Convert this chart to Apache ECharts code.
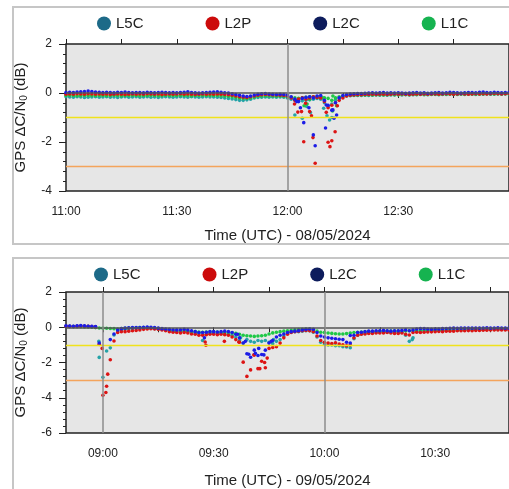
<!DOCTYPE html>
<html>
<head>
<meta charset="utf-8">
<script src="https://cdn.jsdelivr.net/npm/echarts@6/dist/echarts.min.js"></script>
<style>
  html, body { margin: 0; padding: 0; background: #fff; }
  #chart { width: 509px; height: 489px; }
</style>
</head>
<body>
<div id="chart"></div>
<script>
// signal names, legend order
const signals = ['L5C', 'L2P', 'L2C', 'L1C']

// panel 1: 08/05/2024, one value per minute from 11:00 (660 min)
const p1Start = 660
const p1L5C = [-0.15,-0.16,-0.17,-0.15,-0.16,-0.18,-0.17,-0.16,-0.15,-0.17,
  -0.16,-0.15,-0.17,-0.16,-0.18,-0.16,-0.15,-0.17,-0.16,-0.15,
  -0.17,-0.16,-0.15,-0.17,-0.16,-0.18,-0.16,-0.15,-0.16,-0.17,
  -0.16,-0.15,-0.16,-0.17,-0.15,-0.16,-0.17,-0.16,-0.15,-0.16,
  -0.16,-0.17,-0.18,-0.2,-0.22,-0.24,-0.27,-0.3,-0.3,-0.28,
  -0.25,-0.2,-0.18,-0.17,-0.16,-0.17,-0.16,-0.17,-0.16,-0.17,
  -0.2,-0.25,-0.3,-0.28,-0.32,-0.3,-0.28,-0.25,-0.22,-0.25,
  -0.4,-0.55,-0.45,-0.3,-0.2,-0.15,-0.12,-0.11,-0.1,-0.1,
  -0.1,-0.09,-0.1,-0.09,-0.08,-0.09,-0.08,-0.09,-0.08,-0.08,
  -0.07,-0.08,-0.07,-0.08,-0.07,-0.07,-0.06,-0.07,-0.07,-0.06,
  -0.06,-0.07,-0.06,-0.06,-0.05,-0.06,-0.06,-0.05,-0.06,-0.05,
  -0.05,-0.06,-0.05,-0.05,-0.04,-0.05,-0.05,-0.04,-0.05,-0.04,-0.04]
const p1L2P = [-0.05,-0.04,-0.05,-0.03,-0.04,-0.05,-0.03,-0.04,-0.05,-0.04,
  -0.05,-0.04,-0.06,-0.05,-0.04,-0.05,-0.06,-0.05,-0.04,-0.05,
  -0.04,-0.05,-0.03,-0.04,-0.05,-0.04,-0.06,-0.05,-0.04,-0.05,
  -0.04,-0.03,-0.05,-0.04,-0.05,-0.06,-0.05,-0.04,-0.05,-0.04,
  -0.05,-0.04,-0.05,-0.06,-0.07,-0.09,-0.12,-0.15,-0.17,-0.18,
  -0.15,-0.12,-0.09,-0.07,-0.06,-0.07,-0.08,-0.08,-0.09,-0.1,
  -0.12,-0.2,-0.3,-0.25,-0.2,-0.25,-0.2,-0.15,-0.18,-0.2,
  -0.35,-0.6,-0.5,-0.4,-0.3,-0.2,-0.12,-0.09,-0.08,-0.07,
  -0.07,-0.06,-0.06,-0.05,-0.06,-0.05,-0.05,-0.06,-0.05,-0.04,
  -0.05,-0.04,-0.05,-0.06,-0.05,-0.04,-0.05,-0.04,-0.05,-0.04,
  -0.04,-0.05,-0.04,-0.03,-0.04,-0.05,-0.04,-0.03,-0.04,-0.05,
  -0.04,-0.03,-0.04,-0.03,-0.04,-0.03,-0.02,-0.03,-0.04,-0.03,-0.02]
const p1L2C = [0.02,0.03,0.02,0.04,0.05,0.06,0.08,0.06,0.04,0.03,
  0.02,0.03,0.02,0.01,0.03,0.02,0.04,0.02,0.01,0.02,
  0.02,0.01,0.03,0.02,0.01,0.02,0.03,0.02,0.01,0.02,
  0.01,0.02,0.03,0.05,0.02,0.01,0.00,0.01,0.02,0.03,
  0.04,0.05,0.03,0.01,0.00,-0.03,-0.06,-0.09,-0.12,-0.14,
  -0.12,-0.08,-0.05,-0.03,-0.02,-0.04,-0.05,-0.06,-0.05,-0.06,
  -0.08,-0.15,-0.25,-0.35,-0.22,-0.18,-0.15,-0.2,-0.12,-0.1,
  -0.3,-0.5,-0.7,-0.4,-0.2,-0.1,-0.06,-0.04,-0.03,-0.02,
  -0.02,-0.01,0.0,0.01,0.0,0.01,0.02,0.0,0.01,0.0,
  0.01,0.0,-0.01,0.0,0.01,0.02,0.0,0.01,-0.01,0.0,
  0.01,0.02,0.0,0.01,0.03,0.02,0.01,0.0,0.01,0.02,
  0.02,0.01,0.03,0.04,0.02,0.01,0.03,0.02,0.01,0.02,0.02]
const p1L1C = [-0.1,-0.09,-0.1,-0.11,-0.1,-0.09,-0.1,-0.1,-0.11,-0.1,
  -0.1,-0.11,-0.1,-0.09,-0.1,-0.11,-0.1,-0.1,-0.09,-0.1,
  -0.11,-0.1,-0.1,-0.09,-0.1,-0.11,-0.1,-0.09,-0.1,-0.1,
  -0.1,-0.09,-0.1,-0.1,-0.11,-0.1,-0.1,-0.09,-0.1,-0.1,
  -0.1,-0.1,-0.11,-0.12,-0.13,-0.15,-0.18,-0.2,-0.22,-0.22,
  -0.2,-0.16,-0.13,-0.12,-0.11,-0.12,-0.12,-0.13,-0.12,-0.13,
  -0.15,-0.18,-0.2,-0.22,-0.2,-0.18,-0.16,-0.15,-0.17,-0.18,
  -0.2,-0.22,-0.3,-0.2,-0.15,-0.12,-0.1,-0.09,-0.09,-0.08,
  -0.08,-0.08,-0.07,-0.08,-0.07,-0.07,-0.08,-0.07,-0.06,-0.07,
  -0.07,-0.06,-0.06,-0.07,-0.06,-0.06,-0.05,-0.06,-0.06,-0.05,
  -0.05,-0.06,-0.05,-0.05,-0.04,-0.05,-0.05,-0.04,-0.05,-0.04,
  -0.04,-0.05,-0.04,-0.04,-0.03,-0.04,-0.04,-0.03,-0.04,-0.03,-0.03]
// extra scattered points in the dips: [minute, dB]
const p1L5CDip = [[722,-0.9],[722.8,-0.3],[724,-1.03],[725.2,-0.55],[726.2,-0.8],[729.8,-0.62],[730.7,-0.93],[731.4,-1.1],[732,-1.0]]
const p1L2PDip = [[721.9,-0.45],[722.8,-0.78],[723.8,-0.76],[724.4,-1.99],[724.9,-0.42],[726,-0.76],[726.5,-0.93],[726.9,-1.82],[727.5,-2.87],
  [730.5,-0.79],[731,-2.01],[731.5,-2.19],[732,-1.95],[732.9,-1.58],[733.5,-0.52]]
const p1L2CDip = [[722.5,-0.35],[723.5,-0.6],[724.4,-1.21],[725.8,-0.6],[727,-1.71],[727.5,-2.15],[730.3,-1.43],[730.5,-0.49],[732.3,-0.69],[732.6,-1.03],[733.3,-0.9]]
const p1L1CDip = [[724.5,-0.52],[725.3,-0.45],[726,-0.25],[728.2,-0.15],[729.5,-0.2],[732.2,-0.73],[732.3,-0.12],[733.3,-0.52]]

// panel 2: 09/05/2024, one value per minute from 08:50 (530 min), null = no point
const p2Start = 530
const p2L5C = [0.06,0.05,0.05,0.06,0.07,0.06,0.05,0.03,0.02,-1.71,
  -2.84,-1.35,-1.17,-0.44,-0.2,-0.15,-0.12,-0.1,-0.08,-0.06,
  -0.05,-0.04,-0.05,-0.06,-0.08,-0.1,-0.12,-0.16,-0.2,-0.22,
  -0.25,-0.24,-0.22,-0.25,-0.3,-0.33,-0.36,-0.75,-0.4,-0.35,
  -0.35,-0.36,-0.35,-0.38,-0.4,-0.45,-0.56,-0.75,-0.9,-0.7,
  -0.8,-0.85,-0.75,-0.8,-0.75,-0.85,-0.93,-0.8,-0.7,-0.5,
  -0.35,-0.28,-0.25,-0.25,-0.22,-0.2,-0.2,-0.28,-0.55,-0.85,
  -0.95,-1.0,-1.0,-1.05,-1.05,-1.1,-1.12,-1.16,-0.65,-0.45,
  -0.38,-0.35,-0.32,-0.3,-0.3,-0.28,-0.27,-0.28,-0.3,-0.3,
  -0.3,-0.3,-0.45,-0.8,-0.6,-0.25,-0.22,-0.2,-0.2,-0.19,
  -0.18,-0.18,-0.17,-0.16,-0.15,-0.15,-0.14,-0.14,-0.13,-0.12,
  -0.12,-0.12,-0.11,-0.11,-0.1,-0.1,-0.1,-0.1,-0.1,-0.09,-0.09]
const p2L2P = [0.05,0.05,0.04,0.06,0.07,0.06,0.05,0.04,0.02,-0.97,
  -3.86,-3.35,-1.84,-0.78,-0.3,-0.25,-0.25,-0.22,-0.2,-0.18,
  -0.15,-0.12,-0.1,-0.08,-0.1,-0.12,-0.15,-0.2,-0.25,-0.28,
  -0.3,-0.32,-0.3,-0.32,-0.38,-0.4,-0.45,-0.45,-0.42,-0.4,
  -0.4,-0.42,-0.4,-0.42,-0.45,-0.55,-0.7,-0.85,-1.98,-2.79,
  -2.42,-1.57,-2.35,-1.93,-2.3,-1.2,-1.15,-1.1,-0.9,-0.6,
  -0.4,-0.3,-0.25,-0.22,-0.2,-0.18,-0.2,-0.25,-0.5,-0.75,
  -0.85,-0.9,-0.92,-0.88,-0.95,-1.0,-1.05,-1.0,-0.6,-0.45,
  -0.4,-0.38,-0.35,-0.35,-0.33,-0.33,-0.32,-0.3,-0.33,-0.35,
  -0.35,-0.33,-0.4,-0.44,-0.3,-0.28,-0.3,-0.28,-0.27,-0.26,
  -0.25,-0.24,-0.25,-0.23,-0.22,-0.22,-0.2,-0.2,-0.2,-0.19,
  -0.2,-0.18,-0.18,-0.17,-0.17,-0.16,-0.16,-0.15,-0.15,-0.15,-0.15]
const p2L2C = [0.08,0.07,0.06,0.08,0.1,0.08,0.06,0.05,0.04,-0.9,
  null,null,-0.7,-0.38,-0.15,-0.08,-0.05,-0.03,-0.02,-0.02,
  -0.02,0.0,0.01,0.0,-0.02,-0.05,-0.08,-0.1,-0.12,-0.14,
  -0.15,-0.14,-0.12,-0.15,-0.2,-0.25,-0.3,-0.3,-0.28,-0.25,
  -0.25,-0.27,-0.25,-0.22,-0.25,-0.3,-0.4,-0.6,-0.9,-1.5,
  -1.7,-1.3,-1.6,-1.55,-1.3,-0.9,-0.75,-0.55,-0.45,-0.38,
  -0.3,-0.25,-0.22,-0.2,-0.15,-0.12,-0.1,-0.12,-0.3,-0.5,
  -0.55,-0.6,-0.62,-0.65,-0.68,-0.7,-0.85,-0.9,-0.45,-0.3,
  -0.28,-0.25,-0.22,-0.22,-0.2,-0.2,-0.18,-0.2,-0.22,-0.2,
  -0.2,-0.18,-0.15,-0.2,-0.15,-0.1,-0.08,-0.08,-0.1,-0.12,
  -0.1,-0.1,-0.08,-0.07,-0.06,-0.05,-0.06,-0.05,-0.05,-0.04,
  -0.05,-0.04,-0.05,-0.04,-0.03,-0.05,-0.04,-0.03,-0.04,-0.05,-0.05]
const p2L1C = [0.04,0.04,0.03,0.03,0.03,0.02,0.02,0.0,-0.02,-0.04,
  -0.05,-0.06,-0.07,-0.08,-0.1,-0.08,-0.06,-0.05,-0.04,-0.03,
  -0.02,-0.02,-0.02,-0.03,-0.05,-0.08,-0.1,-0.14,-0.17,-0.2,
  -0.2,-0.2,-0.2,-0.22,-0.24,-0.25,-0.27,-0.28,-0.27,-0.26,
  -0.26,-0.27,-0.28,-0.3,-0.3,-0.32,-0.35,-0.4,-0.45,-0.48,
  -0.5,-0.52,-0.5,-0.48,-0.45,-0.38,-0.32,-0.28,-0.25,-0.22,
  -0.2,-0.18,-0.15,-0.13,-0.12,-0.1,-0.1,-0.15,-0.22,-0.28,
  -0.3,-0.33,-0.35,-0.37,-0.38,-0.38,-0.36,-0.33,-0.3,-0.28,
  -0.27,-0.26,-0.25,-0.24,-0.24,-0.23,-0.23,-0.22,-0.22,-0.22,
  -0.22,-0.21,-0.21,-0.2,-0.2,-0.2,-0.19,-0.19,-0.18,-0.18,
  -0.18,-0.17,-0.17,-0.16,-0.16,-0.15,-0.15,-0.15,-0.14,-0.14,
  -0.14,-0.13,-0.13,-0.13,-0.12,-0.12,-0.12,-0.12,-0.11,-0.11,-0.1]
const p2L5CDip = [[538.9,-0.8],[577.3,-0.6],[586.2,-0.7],[623.8,-0.7]]
const p2L2PDip = [[539.8,-1.2],[540.8,-3.7],[541.3,-2.66],[567.7,-0.84],[567.9,-1.02],[572.9,-0.8],[576.8,-0.84],
  [580.9,-1.57],[582.5,-2.35],[583.8,-2.0],[584.5,-1.75]]
const p2L2CDip = [[567.5,-0.6],[576.5,-0.4],[578.6,-0.8],[579.5,-1.53],[581.3,-1.48],[582.2,-1.2],[583.6,-1.57],[585.6,-0.8],[607,-0.47]]
const p2L1CDip = []

// tick positions (minutes of day)
const p2Ticks = [540, 555, 570, 585, 600, 615, 630, 645]
const p2Labels = [540, 570, 600, 630]

const dotColor = { L5C: '#25a3a8', L2P: '#dc1414', L2C: '#1c1ce6', L1C: '#1ec846' }
const keyColor = { L5C: '#1d6a88', L2P: '#cc0b0b', L2C: '#0d1c5c', L1C: '#16b350' }

const font = 'Liberation Sans, Arial, sans-serif'

function hhmm(m) {
  let h = Math.floor(m / 60), mm = Math.round(m % 60)
  return (h < 10 ? '0' : '') + h + ':' + (mm < 10 ? '0' : '') + mm
}

function pts(start, vals, extra) {
  return vals.map((v, i) => v === null ? null : [start + i, v])
    .filter(p => p !== null)
    .concat(extra)
}

function refLines(vx) {
  let data = [
    { yAxis: 0, lineStyle: { color: '#555', width: 1.5 } },
    { yAxis: -1, lineStyle: { color: '#f0e21c', width: 1.4 } },
    { yAxis: -3, lineStyle: { color: '#f4a45c', width: 1.3 } }
  ]
  vx.forEach(x => data.push({ xAxis: x, lineStyle: { color: '#8c8c8c', width: 1.5 } }))
  return {
    silent: true,
    symbol: 'none',
    label: { show: false },
    lineStyle: { type: 'solid' },
    data: data
  }
}

const panel1 = { L5C: pts(p1Start, p1L5C, p1L5CDip), L2P: pts(p1Start, p1L2P, p1L2PDip),
  L2C: pts(p1Start, p1L2C, p1L2CDip), L1C: pts(p1Start, p1L1C, p1L1CDip) }
const panel2 = { L5C: pts(p2Start, p2L5C, p2L5CDip), L2P: pts(p2Start, p2L2P, p2L2PDip),
  L2C: pts(p2Start, p2L2C, p2L2CDip), L1C: pts(p2Start, p2L1C, p2L1CDip) }

// drawing order: blue on top
const drawOrder = ['L5C', 'L1C', 'L2P', 'L2C']
let series = []
drawOrder.forEach((name, k) => {
  series.push({
    name: name, type: 'scatter', xAxisIndex: 0, yAxisIndex: 0,
    symbolSize: 3.6, itemStyle: { color: dotColor[name], opacity: 1 },
    data: panel1[name], markLine: k === 0 ? refLines([720]) : undefined
  })
})
drawOrder.forEach((name, k) => {
  series.push({
    name: name, type: 'scatter', xAxisIndex: 2, yAxisIndex: 1,
    symbolSize: 3.6, itemStyle: { color: dotColor[name], opacity: 1 },
    data: panel2[name], markLine: k === 0 ? refLines([540, 600]) : undefined
  })
})

const legendItems = signals.map(s => ({ name: s, itemStyle: { color: keyColor[s] } }))
function legend(top, left) {
  return {
    top: top, left: left, icon: 'circle', itemWidth: 14, itemHeight: 14, itemGap: 62,
    selectedMode: false,
    textStyle: { fontSize: 15, color: '#222', fontFamily: font },
    data: legendItems
  }
}

const yName = 'GPS ΔC/N{s|0} (dB)'
const nameStyle = {
  fontSize: 15, color: '#222', fontFamily: font,
  rich: { s: { fontSize: 10, fontFamily: font, color: '#222', verticalAlign: 'bottom', padding: [6, 0, 0, 0] } }
}
const tickStyle = { color: '#222', width: 1 }
const labelStyle = { fontSize: 12, color: '#222', fontFamily: font }

function yAxis(grid, min) {
  return {
    gridIndex: grid, type: 'value', min: min, max: 2, interval: 2,
    axisLine: { show: false },
    axisTick: { show: true, length: 7, lineStyle: tickStyle },
    minorTick: { show: true, splitNumber: 5, length: 3, lineStyle: tickStyle },
    splitLine: { show: false },
    axisLabel: Object.assign({ margin: 14 }, labelStyle),
    name: yName, nameLocation: 'middle', nameGap: 37, nameTextStyle: nameStyle
  }
}

let chart = echarts.init(document.getElementById('chart'))
chart.setOption({
  backgroundColor: '#fff',
  animation: false,
  graphic: [
    { type: 'rect', shape: { x: 13, y: 7, width: 520, height: 237 }, style: { fill: 'none', stroke: '#c6c6c6', lineWidth: 2 }, silent: true },
    { type: 'rect', shape: { x: 13, y: 258, width: 520, height: 260 }, style: { fill: 'none', stroke: '#c6c6c6', lineWidth: 2 }, silent: true }
  ],
  legend: [legend(11, 92), legend(262, 89)],
  grid: [
    { left: 66, top: 44, width: 443, height: 147, show: true, backgroundColor: '#e6e6e6', borderColor: '#222', borderWidth: 1.5 },
    { left: 66, top: 292, width: 443, height: 146, show: true, backgroundColor: '#e6e6e6', borderColor: '#222', borderWidth: 1.5 }
  ],
  xAxis: [
    {
      gridIndex: 0, type: 'value', min: 660, max: 780, interval: 15,
      axisLine: { show: false }, splitLine: { show: false },
      axisTick: { length: 5, lineStyle: tickStyle },
      axisLabel: Object.assign({ margin: 15, showMaxLabel: false,
        formatter: v => (v % 30 === 0 && v < 780) ? hhmm(v) : '' }, labelStyle),
      name: 'Time (UTC) - 08/05/2024', nameLocation: 'middle', nameGap: 37,
      nameTextStyle: { fontSize: 15, color: '#222', fontFamily: font }
    },
    {
      gridIndex: 0, type: 'value', position: 'top', min: 660, max: 780, interval: 15,
      axisLine: { show: false }, splitLine: { show: false },
      axisTick: { length: 5, lineStyle: tickStyle }, axisLabel: { show: false }
    },
    {
      gridIndex: 1, type: 'value', min: 530, max: 650,
      axisLine: { show: false }, splitLine: { show: false },
      axisTick: { length: 5, lineStyle: tickStyle, customValues: p2Ticks },
      axisLabel: Object.assign({ margin: 15, customValues: p2Labels, formatter: v => hhmm(v) }, labelStyle),
      name: 'Time (UTC) - 09/05/2024', nameLocation: 'middle', nameGap: 40,
      nameTextStyle: { fontSize: 15, color: '#222', fontFamily: font }
    },
    {
      gridIndex: 1, type: 'value', position: 'top', min: 530, max: 650,
      axisLine: { show: false }, splitLine: { show: false },
      axisTick: { length: 5, lineStyle: tickStyle, customValues: p2Ticks },
      axisLabel: { show: false }
    }
  ],
  yAxis: [yAxis(0, -4), yAxis(1, -6)],
  series: series
})
</script>
</body>
</html>
